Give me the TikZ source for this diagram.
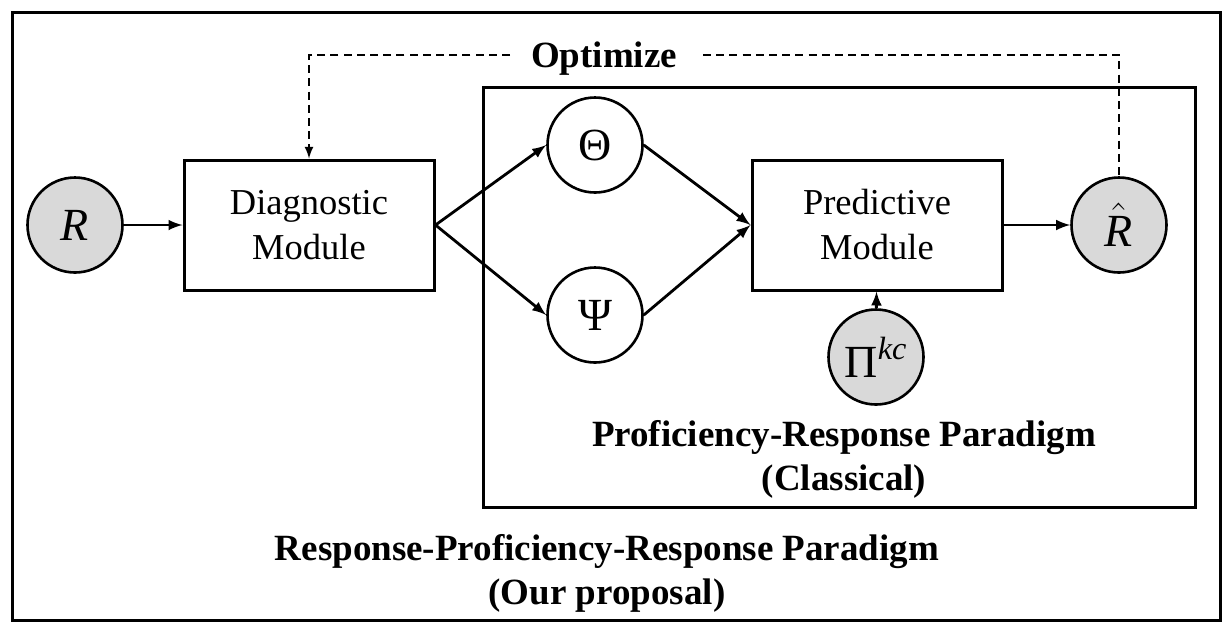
\documentclass[tikz,border=0pt]{standalone}
\usepackage{fontspec}
\setmainfont{Liberation Serif}
\usetikzlibrary{arrows}
\tikzset{
	latent/.style={draw=black, circle, line width=1.3pt, minimum size=47.5pt, inner sep=0pt, font=\fontsize{23}{25}\selectfont},
	observed/.style={latent, fill=black!15, font=\fontsize{23}{26}\selectfont},
	module/.style={draw=black, rectangle, line width=1.5pt, minimum width=125pt, minimum height=65pt, align=center, font=\fontsize{18.25}{22.5}\selectfont},
	caption/.style={align=center, font=\fontsize{18.5}{22}\selectfont\bfseries},
	dash line/.style={dashed, line width=1pt, dash pattern=on 4pt off 2.6pt}
}

\begin{document}
\begin{tikzpicture}[x=0.5pt, y=-0.5pt, >=latex, every path/.style={line width=1.4pt}]

	\useasboundingbox (0, 0) rectangle (1230, 634);

	% frames
	\draw[line width=1.5pt] (12, 12) rectangle (1220, 620);
	\draw[line width=1.5pt] (483, 87) rectangle (1195, 507);

	\node[observed] (R) at (75, 225) {$\mathit{R}$};
	\node[module] (diag) at (309, 225) {Diagnostic\\Module};
	\node[latent] (theta) at (595, 145) {Θ};
	\node[latent] (psi) at (595, 315) {Ψ};
	\node[module] (pred) at (877, 225) {Predictive\\Module};
	\node[observed] (rhat) at (1119, 225) {$\hat{\mathit{R}}$};
	\node[observed] (pikc) at (876, 357) {Π$^{\mathit{kc}}$};

	\node[caption] (opt) at (604, 59) {Optimize};
	\node[caption] (classical) at (844, 459) {Proficiency-Response Paradigm\\(Classical)};
	\node[caption] (ours) at (607, 573) {Response-Proficiency-Response Paradigm\\(Our proposal)};

	\draw[->] (R) -- (diag);
	\draw[->] (diag.east) -- (theta.west);
	\draw[->] (diag.east) -- (psi.west);
	\draw[->] (theta.east) -- (pred.west);
	\draw[->] (psi.east) -- (pred.west);
	\draw[->] (pred) -- (rhat);
	\draw[->] (pikc) -- (pred);

	% optimize loop
	\coordinate (optL) at (510, 55);
	\coordinate (optR) at (703, 55);
	\draw[dash line, ->] (optL) -| (diag.north);
	\draw[dash line] (optR) -| (rhat.north);

\end{tikzpicture}
\end{document}
